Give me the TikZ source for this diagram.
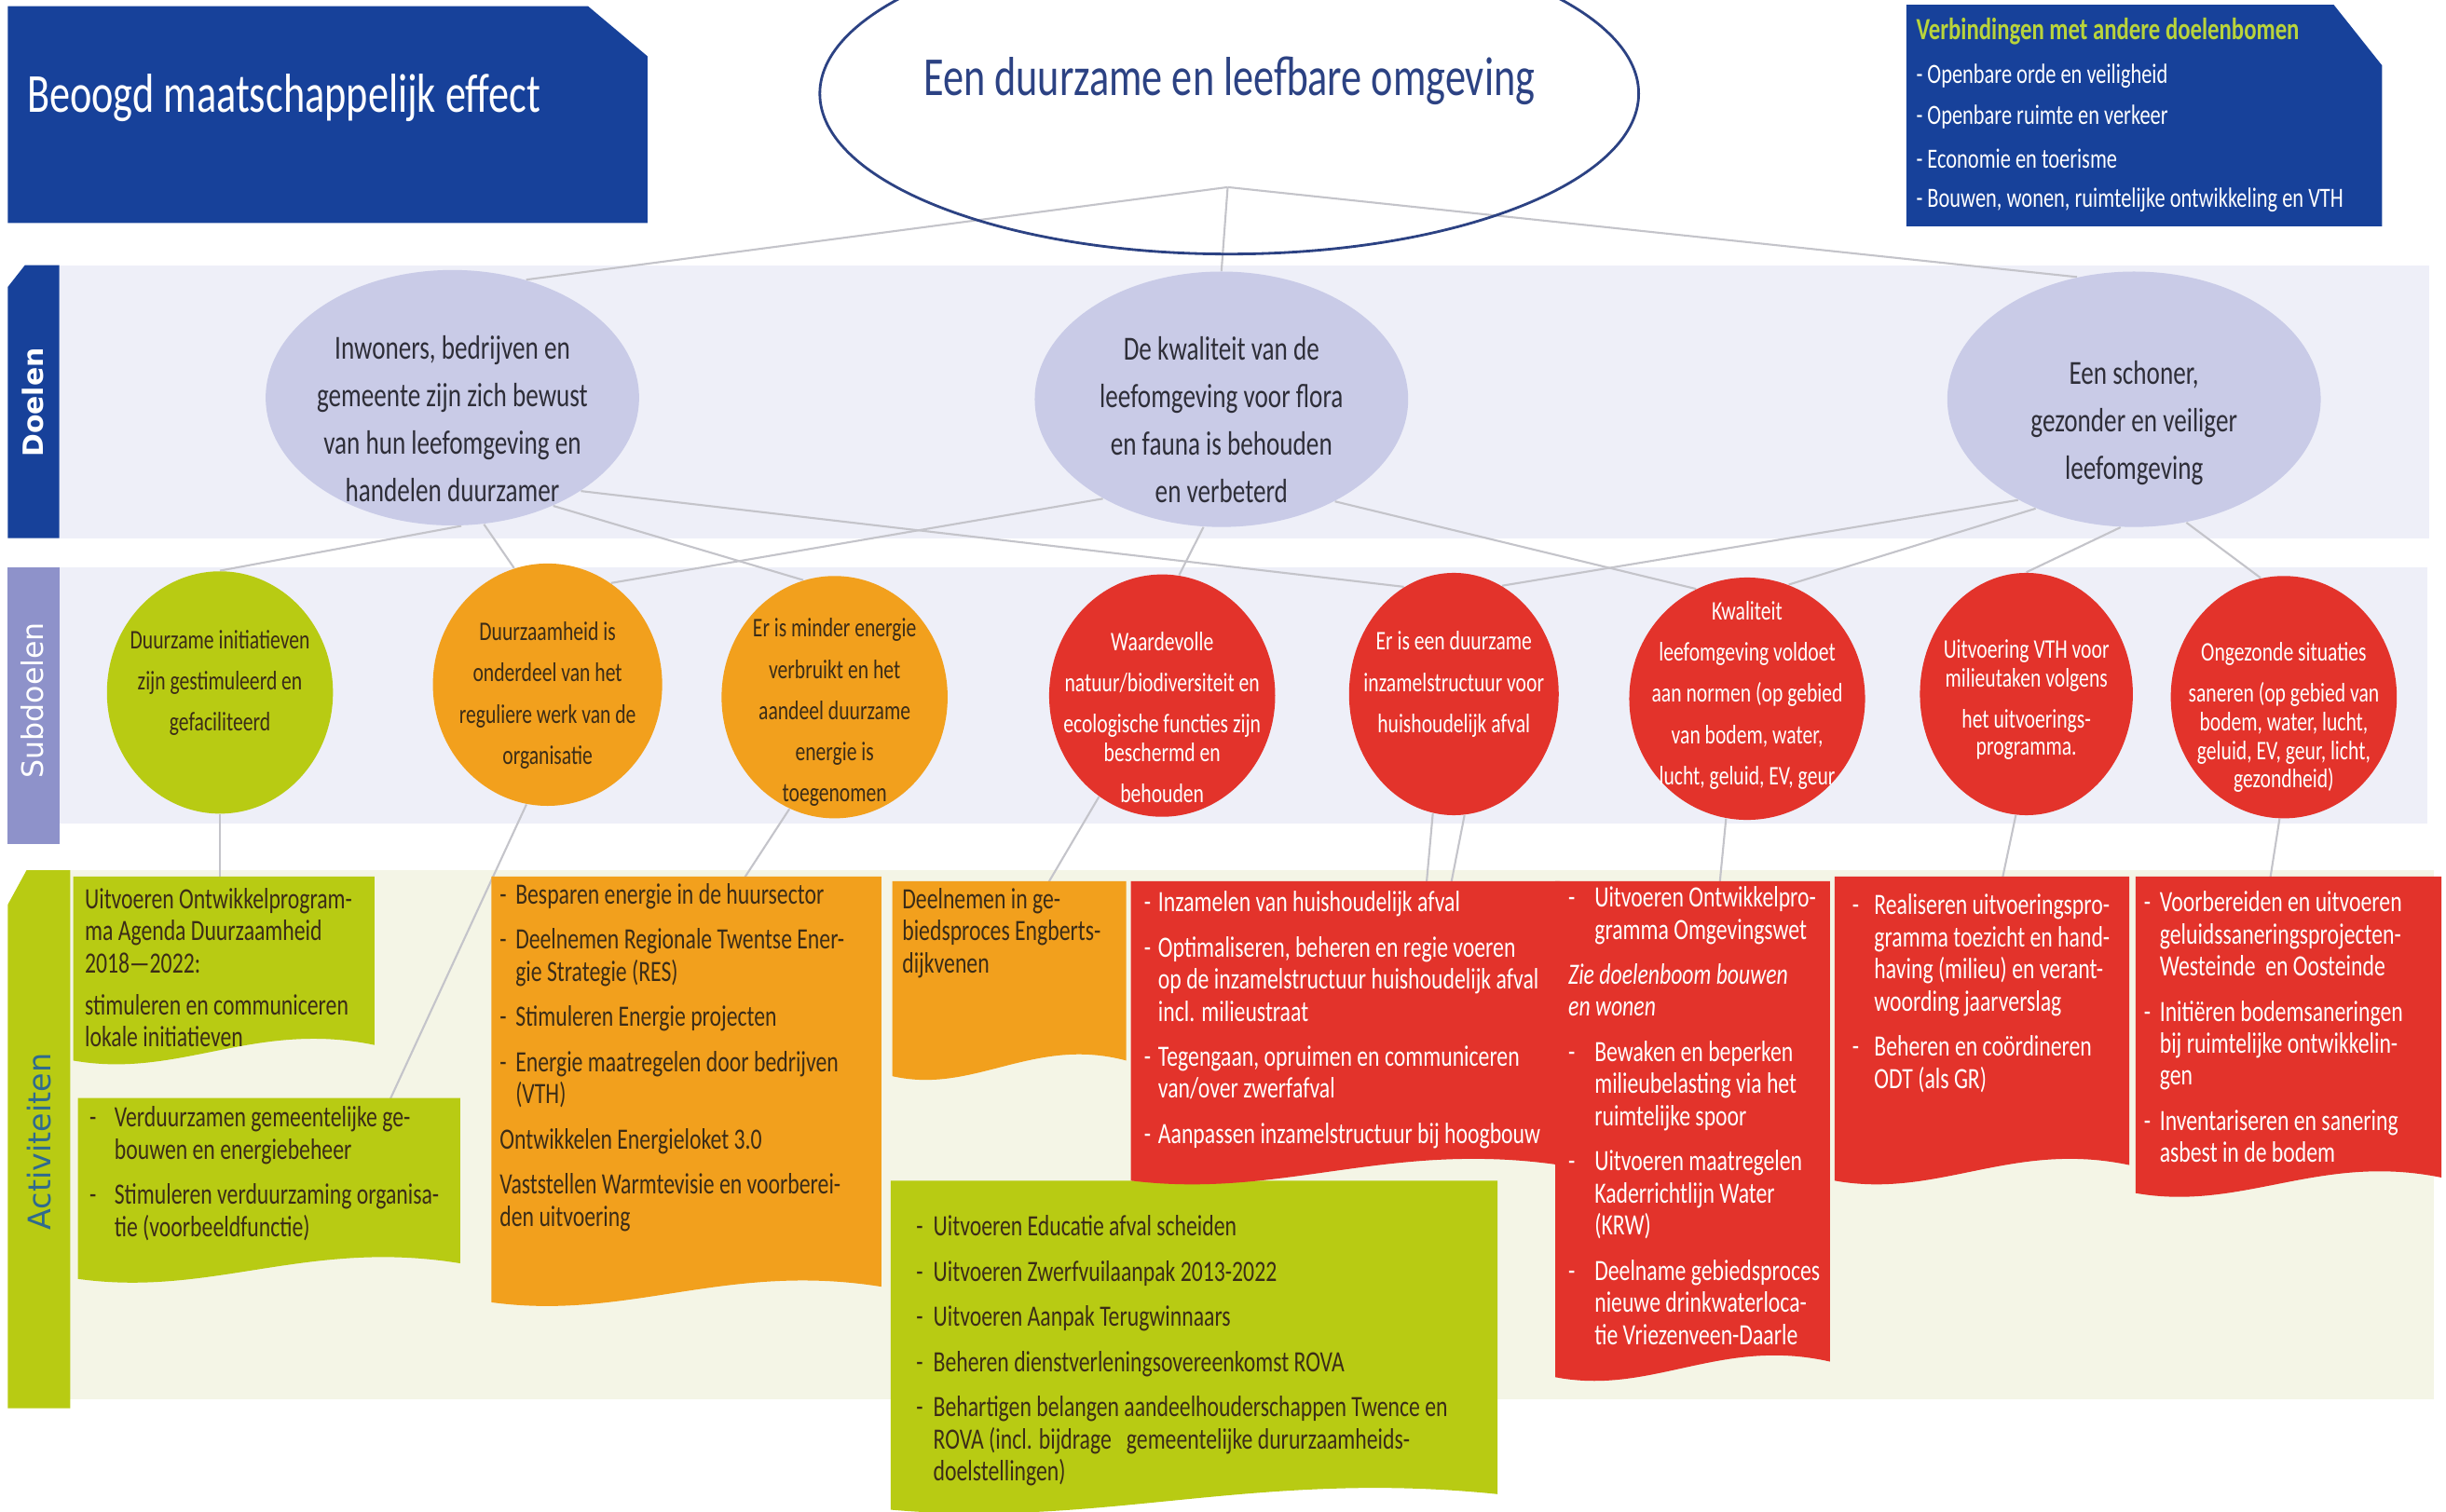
\documentclass[tikz,border=0pt]{standalone}
\usepackage{fontspec}
\setmainfont{Carlito}[FakeStretch=0.75]
\newfontfamily\stripfont{DejaVu Sans}
\usetikzlibrary{shapes.geometric,calc}

\definecolor{effblue}{HTML}{17419A}
\definecolor{titleblue}{HTML}{2C4283}
\definecolor{bandfill}{HTML}{EEEFF8}
\definecolor{doelfill}{HTML}{C9CBE7}
\definecolor{doeltext}{HTML}{2E2E38}
\definecolor{substrip}{HTML}{8E92CA}
\definecolor{actband}{HTML}{F4F5E6}
\definecolor{actgreen}{HTML}{B8CB13}
\definecolor{actorange}{HTML}{F2A01D}
\definecolor{actred}{HTML}{E3332B}
\definecolor{darktext}{HTML}{3B2C17}
\definecolor{verbgreen}{HTML}{B9D43B}
\definecolor{labelteal}{HTML}{2F6A8E}
\definecolor{linegray}{HTML}{C4C4CA}

\pgfdeclarelayer{bands}
\pgfdeclarelayer{lines}
\pgfsetlayers{bands,lines,main}

\newcommand{\doelfont}{\fontsize{10.3}{14.5}\selectfont}
\newcommand{\subfont}{\fontsize{8.2}{12.6}\selectfont}
\newcommand{\actfont}{\fontsize{9}{9.8}\selectfont}
% centred text that does not size the ellipse
\newcommand{\ctext}[2][0pt]{\raisebox{#1}[0pt][0pt]{\makebox[0pt]{\begin{tabular}{@{}c@{}}#2\end{tabular}}}}
\newcommand{\dsh}[1]{\makebox[#1][l]{-}}
\newcommand{\indt}[1]{\hspace*{#1}}
% box with wavy bottom: colour, x1, top, x2, bottom
\newcommand{\wavebox}[5]{\fill[#1] (#2,#3) -- (#4,#3) -- (#4,#5-10)
  .. controls ({#2+0.6*(#4-#2)},#5-26) and ({#2+0.35*(#4-#2)},#5+12) .. (#2,#5) -- cycle;}

\begin{document}
\begin{tikzpicture}[x=0.01674cm, y=-0.01674cm,
  doel/.style={ellipse, fill=doelfill, minimum width=114pt, minimum height=78pt, inner sep=0pt, text=doeltext, font=\doelfont},
  sub/.style={ellipse, minimum width=69pt, minimum height=74pt, inner sep=0pt, font=\subfont},
  conn/.style={draw=linegray, line width=0.6pt},
  act/.style={anchor=north west, inner sep=0pt, align=left, font=\actfont},
  striplabel/.style={rotate=90, inner sep=0pt, font=\stripfont\fontsize{9}{11}\selectfont}]
\useasboundingbox (0,0) rectangle (1568,969);

% bands
\begin{pgfonlayer}{bands}
  \fill[bandfill] (38,170) rectangle (1557,345);
  \fill[bandfill] (38,364) rectangle (1556,528);
  \fill[actband]  (45,558) rectangle (1560,897);
  \fill[effblue]  (5,184) -- (16,170) -- (38,170) -- (38,345) -- (5,345) -- cycle;
  \fill[substrip] (5,364) rectangle (38,541);
  \fill[actgreen] (5,580) -- (17,558) -- (45,558) -- (45,903) -- (5,903) -- cycle;
\end{pgfonlayer}

% top row
\fill[effblue] (5,4) -- (377,4) -- (415,36) -- (415,143) -- (5,143) -- cycle;
\node[anchor=west, inner sep=0pt, text=white, font=\fontsize{16.8}{19}\selectfont] (effect) at (17,63) {Beoogd maatschappelijk effect};
\node[ellipse, draw=titleblue, line width=0.8pt, minimum width=250pt, minimum height=98pt, inner sep=0pt,
  text=titleblue, font=\fontsize{16.8}{19}\selectfont] (eff) at (788,60) {\ctext[-1pt]{Een duurzame en leefbare omgeving}};

\fill[effblue] (1222,3) -- (1496,3) -- (1527,42) -- (1527,145) -- (1222,145) -- cycle;
\node[anchor=west, inner sep=0pt, text=verbgreen, font=\bfseries\fontsize{9.4}{11}\selectfont] (verb) at (1228,20) {Verbindingen met andere doelenbomen};
\foreach \verbitem [count=\n] in {Openbare orde en veiligheid, Openbare ruimte en verkeer, Economie en toerisme, {Bouwen, wonen, ruimtelijke ontwikkeling en VTH}}
  \node[anchor=west, inner sep=0pt, text=white, font=\fontsize{8.5}{10}\selectfont] (verb\n) at (1228,{22+26.5*\n}) {- \verbitem};

% strip labels
\node[striplabel, text=white, font=\stripfont\bfseries\fontsize{8.5}{10}\selectfont] (doelen) at (21,258) {Doelen};
\node[striplabel, text=white] (subdoelen) at (21,449) {Subdoelen};
\node[striplabel, text=labelteal, font=\stripfont\fontsize{9.5}{11}\selectfont] (activiteiten) at (25,732) {Activiteiten};

% doelen
\node[doel] (d1) at (290,255) {\ctext[-9.5pt]{Inwoners, bedrijven en\\gemeente zijn zich bewust\\van hun leefomgeving en\\handelen duurzamer}};
\node[doel] (d2) at (783,256) {\ctext[-9.5pt]{De kwaliteit van de\\leefomgeving voor flora\\en fauna is behouden\\en verbeterd}};
\node[doel] (d3) at (1368,256) {\ctext[-9.5pt]{Een schoner,\\gezonder en veiliger\\leefomgeving}};

% subdoelen
\node[sub, fill=actgreen, text=darktext] (s1) at (141,444) {\ctext[1.3pt]{Duurzame initiatieven\\zijn gestimuleerd en\\gefaciliteerd}};
\node[sub, fill=actorange, text=darktext, minimum width=70pt] (s2) at (351,439) {\ctext[-4.9pt]{Duurzaamheid is\\onderdeel van het\\reguliere werk van de\\organisatie}};
\node[sub, fill=actorange, text=darktext] (s3) at (535,447) {\ctext[-6.3pt]{Er is minder energie\\verbruikt en het\\aandeel duurzame\\energie is\\toegenomen}};
\node[sub, fill=actred, text=white] (s4) at (745,446) {\ctext[-8.9pt]{Waardevolle\\natuur/biodiversiteit en\\ecologische functies zijn\\[-4pt]beschermd en\\behouden}};
\node[sub, fill=actred, text=white, minimum width=64pt] (s5) at (932,445) {\ctext[1.3pt]{Er is een duurzame\\inzamelstructuur voor\\huishoudelijk afval}};
\node[sub, fill=actred, text=white, minimum width=72pt] (s6) at (1120,448) {\ctext[-0.6pt]{Kwaliteit\\leefomgeving voldoet\\aan normen (op gebied\\van bodem, water,\\lucht, geluid, EV, geur}};
\node[sub, fill=actred, text=white, minimum width=65pt] (s7) at (1299,445) {\ctext[-3.4pt]{Uitvoering VTH voor\\[-4pt]milieutaken volgens\\het uitvoerings-\\[-4.3pt]programma.}};
\node[sub, fill=actred, text=white] (s8) at (1464,447) {\ctext[-7.7pt]{Ongezonde situaties\\saneren (op gebied van\\[-3.7pt]bodem, water, lucht,\\[-4pt]geluid, EV, geur, licht,\\[-4pt]gezondheid)}};

% activiteiten
\wavebox{actgreen}{47}{562}{240}{680}
\node[act, text=darktext] (a1) at (54,569) {Uitvoeren Ontwikkelprogram-\\ma Agenda Duurzaamheid\\2018—2022:\\[3pt]stimuleren en communiceren\\lokale initiatieven};

\wavebox{actgreen}{50}{704}{295}{820}
\node[act, text=darktext] (a2) at (57,709) {\dsh{7.6pt}Verduurzamen gemeentelijke ge-\\\indt{7.6pt}bouwen en energiebeheer\\[4pt]\dsh{7.6pt}Stimuleren verduurzaming organisa-\\\indt{7.6pt}tie (voorbeeldfunctie)};

\wavebox{actorange}{315}{562}{565}{835}
\node[act, text=darktext] (a3) at (320,566) {\dsh{4.8pt}Besparen energie in de huursector\\[4pt]\dsh{4.8pt}Deelnemen Regionale Twentse Ener-\\\indt{4.8pt}gie Strategie (RES)\\[4pt]\dsh{4.8pt}Stimuleren Energie projecten\\[4pt]\dsh{4.8pt}Energie maatregelen door bedrijven\\\indt{4.8pt}(VTH)\\[4pt]Ontwikkelen Energieloket 3.0\\[4pt]Vaststellen Warmtevisie en voorberei-\\den uitvoering};

\wavebox{actorange}{572}{565}{722}{690}
\node[act, text=darktext] (a4) at (578,569) {Deelnemen in ge-\\biedsproces Engberts-\\dijkvenen};

\wavebox{actgreen}{571}{757}{960}{968}
\node[act, text=darktext] (a6) at (587,779) {\dsh{5.2pt}Uitvoeren Educatie afval scheiden\\[4pt]\dsh{5.2pt}Uitvoeren Zwerfvuilaanpak 2013-2022\\[4pt]\dsh{5.2pt}Uitvoeren Aanpak Terugwinnaars\\[4pt]\dsh{5.2pt}Beheren dienstverleningsovereenkomst ROVA\\[4pt]\dsh{5.2pt}Behartigen belangen aandeelhouderschappen Twence en\\\indt{5.2pt}ROVA (incl. bijdrage \ \ gemeentelijke dururzaamheids-\\\indt{5.2pt}doelstellingen)};

\wavebox{actred}{725}{565}{1000}{757}
\node[act, text=white] (a5) at (733,571) {\dsh{4.3pt}Inzamelen van huishoudelijk afval\\[4pt]\dsh{4.3pt}Optimaliseren, beheren en regie voeren\\\indt{4.3pt}op de inzamelstructuur huishoudelijk afval\\\indt{4.3pt}incl. milieustraat\\[4pt]\dsh{4.3pt}Tegengaan, opruimen en communiceren\\\indt{4.3pt}van/over zwerfafval\\[4pt]\dsh{4.3pt}Aanpassen inzamelstructuur bij hoogbouw};

\wavebox{actred}{997}{565}{1173}{883}
\node[act, text=white] (a7) at (1005,568) {\dsh{8pt}Uitvoeren Ontwikkelpro-\\\indt{8pt}gramma Omgevingswet\\[4pt]\textit{Zie doelenboom bouwen}\\\textit{en wonen}\\[4pt]\dsh{8pt}Bewaken en beperken\\\indt{8pt}milieubelasting via het\\\indt{8pt}ruimtelijke spoor\\[4pt]\dsh{8pt}Uitvoeren maatregelen\\\indt{8pt}Kaderrichtlijn Water\\\indt{8pt}(KRW)\\[4pt]\dsh{8pt}Deelname gebiedsproces\\\indt{8pt}nieuwe drinkwaterloca-\\\indt{8pt}tie Vriezenveen-Daarle};

\wavebox{actred}{1176}{562}{1365}{757}
\node[act, text=white] (a8) at (1187,573) {\dsh{6.7pt}Realiseren uitvoeringspro-\\\indt{6.7pt}gramma toezicht en hand-\\\indt{6.7pt}having (milieu) en verant-\\\indt{6.7pt}woording jaarverslag\\[4pt]\dsh{6.7pt}Beheren en coördineren\\\indt{6.7pt}ODT (als GR)};

\wavebox{actred}{1369}{562}{1565}{765}
\node[act, text=white] (a9) at (1374,571) {\dsh{4.8pt}Voorbereiden en uitvoeren\\\indt{4.8pt}geluidssaneringsprojecten-\\\indt{4.8pt}Westeinde \ en Oosteinde\\[4pt]\dsh{4.8pt}Initiëren bodemsaneringen\\\indt{4.8pt}bij ruimtelijke ontwikkelin-\\\indt{4.8pt}gen\\[4pt]\dsh{4.8pt}Inventariseren en sanering\\\indt{4.8pt}asbest in de bodem};

% connectors
\begin{pgfonlayer}{lines}
  \coordinate (hub) at (787,120);
  \draw[conn] (hub) -- (d1.58);
  \draw[conn] (hub) -- (d2.north);
  \draw[conn] (hub) -- (d3.115);
  \draw[conn] (d1.-86) -- (s1.north);
  \draw[conn] (d1.-76) -- (s2.106);
  \draw[conn] (d1.-47) -- (s3.105);
  \draw[conn] (d1.-36) -- (s5.115);
  \draw[conn] (d2.-140) -- (s2.58);
  \draw[conn] (d2.-98) -- (s4.82);
  \draw[conn] (d2.-42) -- (s6.115);
  \draw[conn] (d3.-139) -- (s5.66);
  \draw[conn] (d3.-132) -- (s6.70);
  \draw[conn] (d3.-96) -- (s7.90);
  \draw[conn] (d3.-67) -- (s8.101);
  \draw[conn] (s1.south) -- (s1.south |- a1.north);
  \draw[conn] (s2.-100) -- ($(a2.north west)!0.85!(a2.north east)$);
  \draw[conn] (s3.-112) -- ($(a3.north west)!0.7!(a3.north east)$);
  \draw[conn] (s4.-122) -- ($(a4.north west)!0.72!(a4.north east)$);
  \draw[conn] (s5.-85) -- ($(a5.north west)!0.77!(a5.north east)$);
  \draw[conn] (s5.-100) -- ($(a5.north west)!0.71!(a5.north east)$);
  \draw[conn] (s6.-100) -- ($(a7.north west)!0.6!(a7.north east)$);
  \draw[conn] (s7.-95) -- ($(a8.north west)!0.57!(a8.north east)$);
  \draw[conn] (s8.-92) -- ($(a9.north west)!0.48!(a9.north east)$);
\end{pgfonlayer}
\end{tikzpicture}
\end{document}
